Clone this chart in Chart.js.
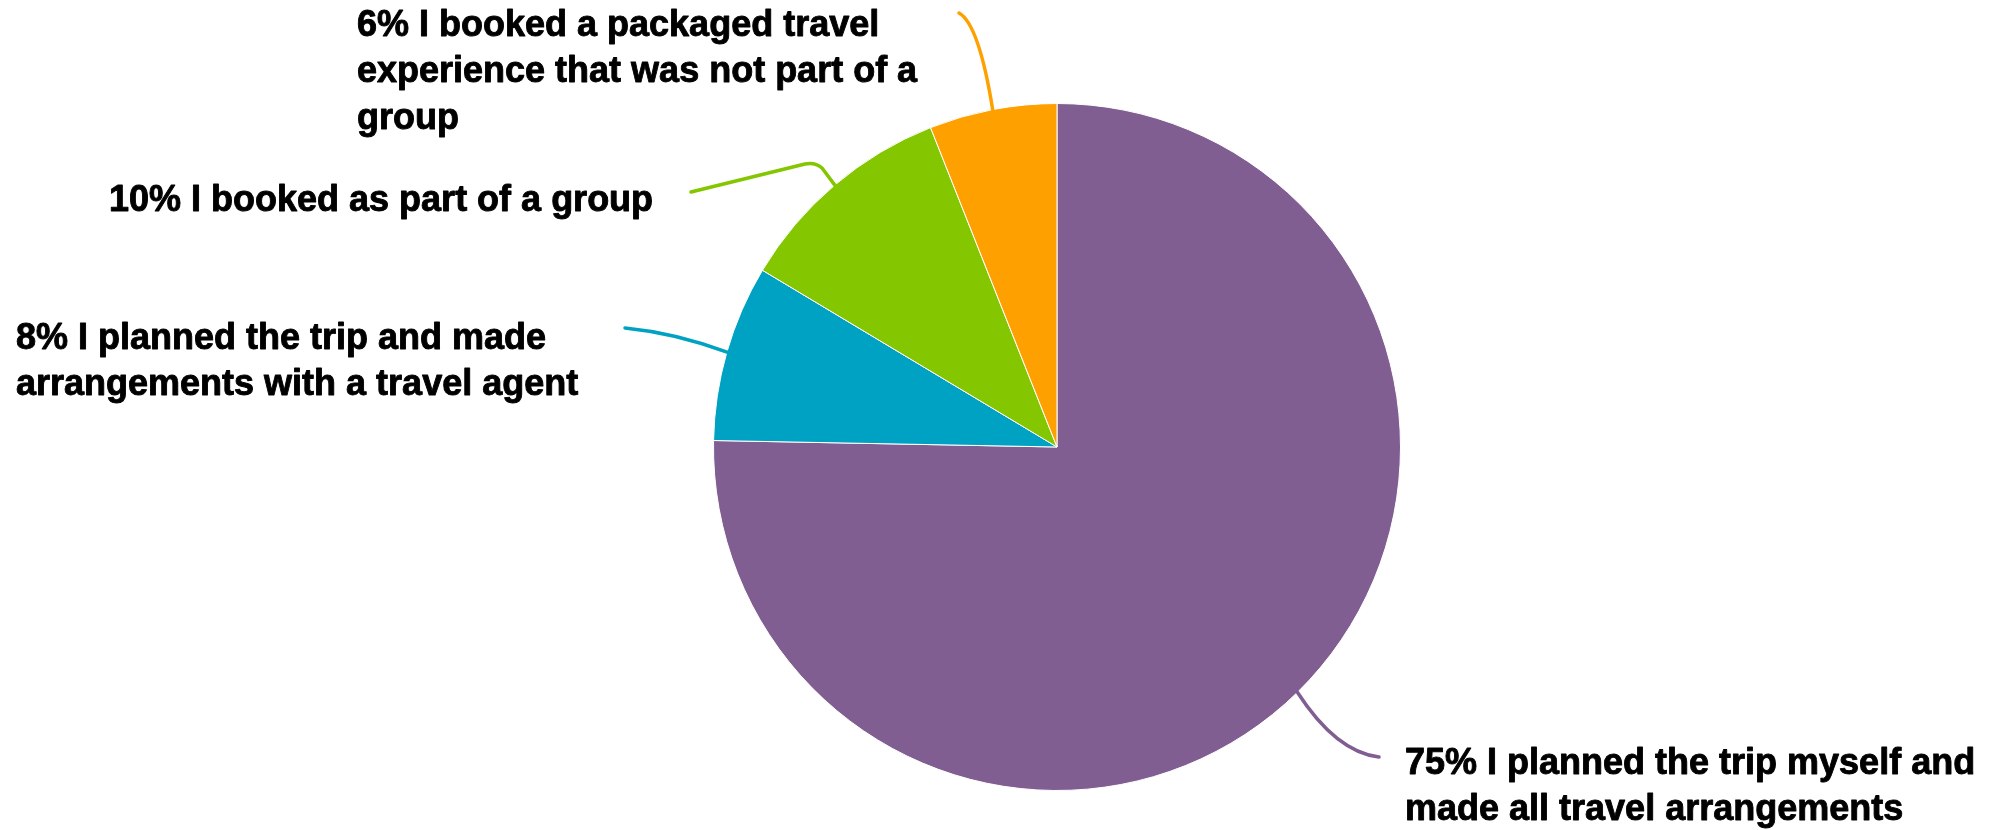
<!DOCTYPE html>
<html>
<head>
<meta charset="utf-8">
<script src="https://cdn.jsdelivr.net/npm/chart.js@4.4.1/dist/chart.umd.min.js"></script>
<style>
  html, body { margin: 0; padding: 0; background: #ffffff; }
  #wrap { width: 2011px; height: 830px; position: relative; }
</style>
</head>
<body>
<div id="wrap"><canvas id="c" width="2011" height="830"></canvas></div>
<script>
// ---- data ----
const categories = [
  ['I planned the trip myself and', 'made all travel arrangements'],
  ['I planned the trip and made', 'arrangements with a travel agent'],
  ['I booked as part of a group'],
  ['I booked a packaged travel', 'experience that was not part of a', 'group']
];
const shares = [75.3, 8.3, 10.4, 6.0];
const sliceColors = ['#805e91', '#00a2c3', '#84c600', '#ffa001'];

// ---- label layout (positions of text blocks and leader paths) ----
const labelLayout = [
  { x: 1405, y: 764, end: [1379, 757], ctrl: [1336, 752] },
  { x: 16,   y: 339, end: [625, 328],  ctrl: [676, 333] },
  { x: 109,  y: 201, end: [691, 192],  via: [[822, 168], [815, 162], [805, 164]] },
  { x: 357,  y: 26,  end: [959, 13],   ctrl: [979, 24] }
];
const lineHeight = 46.5;
const labelFont = 'bold 36px "Liberation Sans", Arial, sans-serif';

const calloutPlugin = {
  id: 'callouts',
  afterDatasetsDraw(chart) {
    const ctx = chart.ctx;
    const meta = chart.getDatasetMeta(0);
    const data = chart.data.datasets[0].data;
    meta.data.forEach((arc, i) => {
      const p = arc.getProps(['x', 'y', 'startAngle', 'endAngle', 'outerRadius'], true);
      const mid = (p.startAngle + p.endAngle) / 2;
      const sx = p.x + Math.cos(mid) * (p.outerRadius - 1);
      const sy = p.y + Math.sin(mid) * (p.outerRadius - 1);
      const L = labelLayout[i];
      ctx.save();
      ctx.strokeStyle = sliceColors[i];
      ctx.lineWidth = 3.5;
      ctx.lineCap = 'round';
      ctx.lineJoin = 'round';
      ctx.beginPath();
      ctx.moveTo(sx, sy);
      if (L.via) {
        ctx.lineTo(L.via[0][0], L.via[0][1]);
        ctx.quadraticCurveTo(L.via[1][0], L.via[1][1], L.via[2][0], L.via[2][1]);
        ctx.lineTo(L.end[0], L.end[1]);
      } else {
        ctx.quadraticCurveTo(L.ctrl[0], L.ctrl[1], L.end[0], L.end[1]);
      }
      ctx.stroke();
      ctx.restore();

      ctx.save();
      ctx.fillStyle = '#000000';
      ctx.strokeStyle = '#000000';
      ctx.lineWidth = 0.9;
      ctx.lineJoin = 'round';
      ctx.font = labelFont;
      ctx.textAlign = 'left';
      ctx.textBaseline = 'middle';
      const pct = Math.round(data[i]) + '% ';
      const lines = chart.data.labels[i];
      lines.forEach((ln, k) => {
        const txt = k === 0 ? pct + ln : ln;
        ctx.fillText(txt, L.x, L.y + k * lineHeight);
        ctx.strokeText(txt, L.x, L.y + k * lineHeight);
      });
      ctx.restore();
    });
  }
};

new Chart(document.getElementById('c'), {
  type: 'pie',
  data: {
    labels: categories,
    datasets: [{
      data: shares,
      backgroundColor: sliceColors,
      borderColor: '#ffffff',
      borderWidth: 1
    }]
  },
  options: {
    responsive: false,
    animation: false,
    layout: { padding: { top: 103, bottom: 39, left: 400, right: 297 } },
    plugins: {
      legend: { display: false },
      tooltip: { enabled: false },
      title: { display: false }
    }
  },
  plugins: [calloutPlugin]
});
</script>
</body>
</html>
